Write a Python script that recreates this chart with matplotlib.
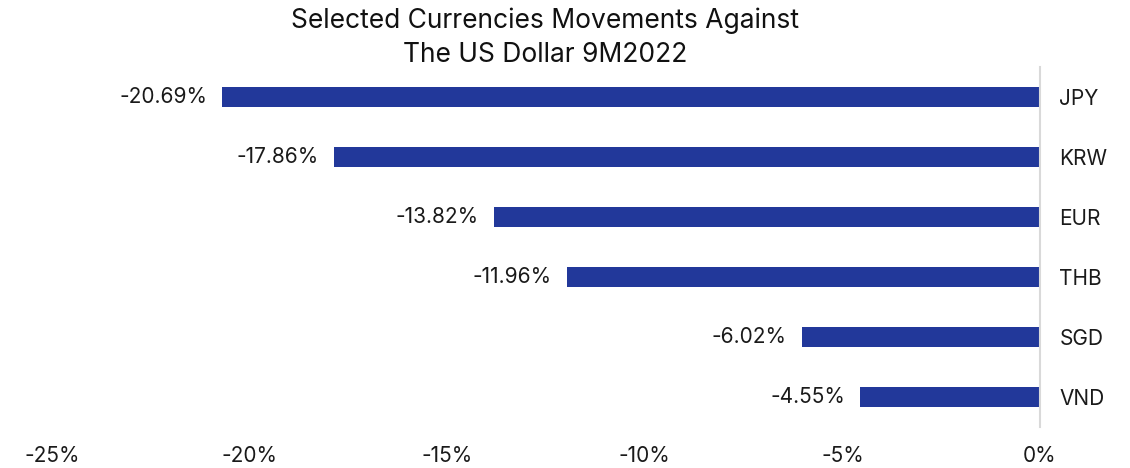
import matplotlib.pyplot as plt

# data
currencies = ["JPY", "KRW", "EUR", "THB", "SGD", "VND"]
changes = [-20.69, -17.86, -13.82, -11.96, -6.02, -4.55]
xticks = [-25, -20, -15, -10, -5, 0]

bar_color = "#22389A"
text_color = "#1a1a1a"
plt.rcParams['font.family'] = ['Inter', 'DejaVu Sans']

fig = plt.figure(figsize=(11.3, 4.68), dpi=100)
ax = fig.add_axes([52 / 1130, 1 - 427 / 468, 988 / 1130, 360 / 468])

y = list(range(len(currencies)))
ax.barh(y, changes, height=0.33, color=bar_color)
ax.set_ylim(len(currencies) - 0.5, -0.5)
ax.set_xlim(-25, 0)

for yi, v in zip(y, changes):
    ax.annotate(f"{v:.2f}%", (v, yi), xytext=(-11, 0), textcoords="offset points",
                ha="right", va="center", fontsize=15, color=text_color)

ax.axvline(0, color="#d9d9d9", linewidth=1.5, clip_on=False)

ax.set_yticks(y)
ax.set_yticklabels(currencies)
ax.yaxis.tick_right()
ax.set_xticks(xticks)
ax.set_xticklabels([f"{t}%" for t in xticks])
ax.tick_params(axis="both", length=0, labelsize=15, colors=text_color)
ax.tick_params(axis="x", pad=14)
ax.tick_params(axis="y", pad=14)
for s in ax.spines.values():
    s.set_visible(False)

fig.text(545 / 1130, 1 - 38 / 468, "Selected Currencies Movements Against\nThe US Dollar 9M2022",
         ha="center", va="center", fontsize=19, color="#111111", linespacing=1.38)

fig.savefig("out.png", dpi=100)
